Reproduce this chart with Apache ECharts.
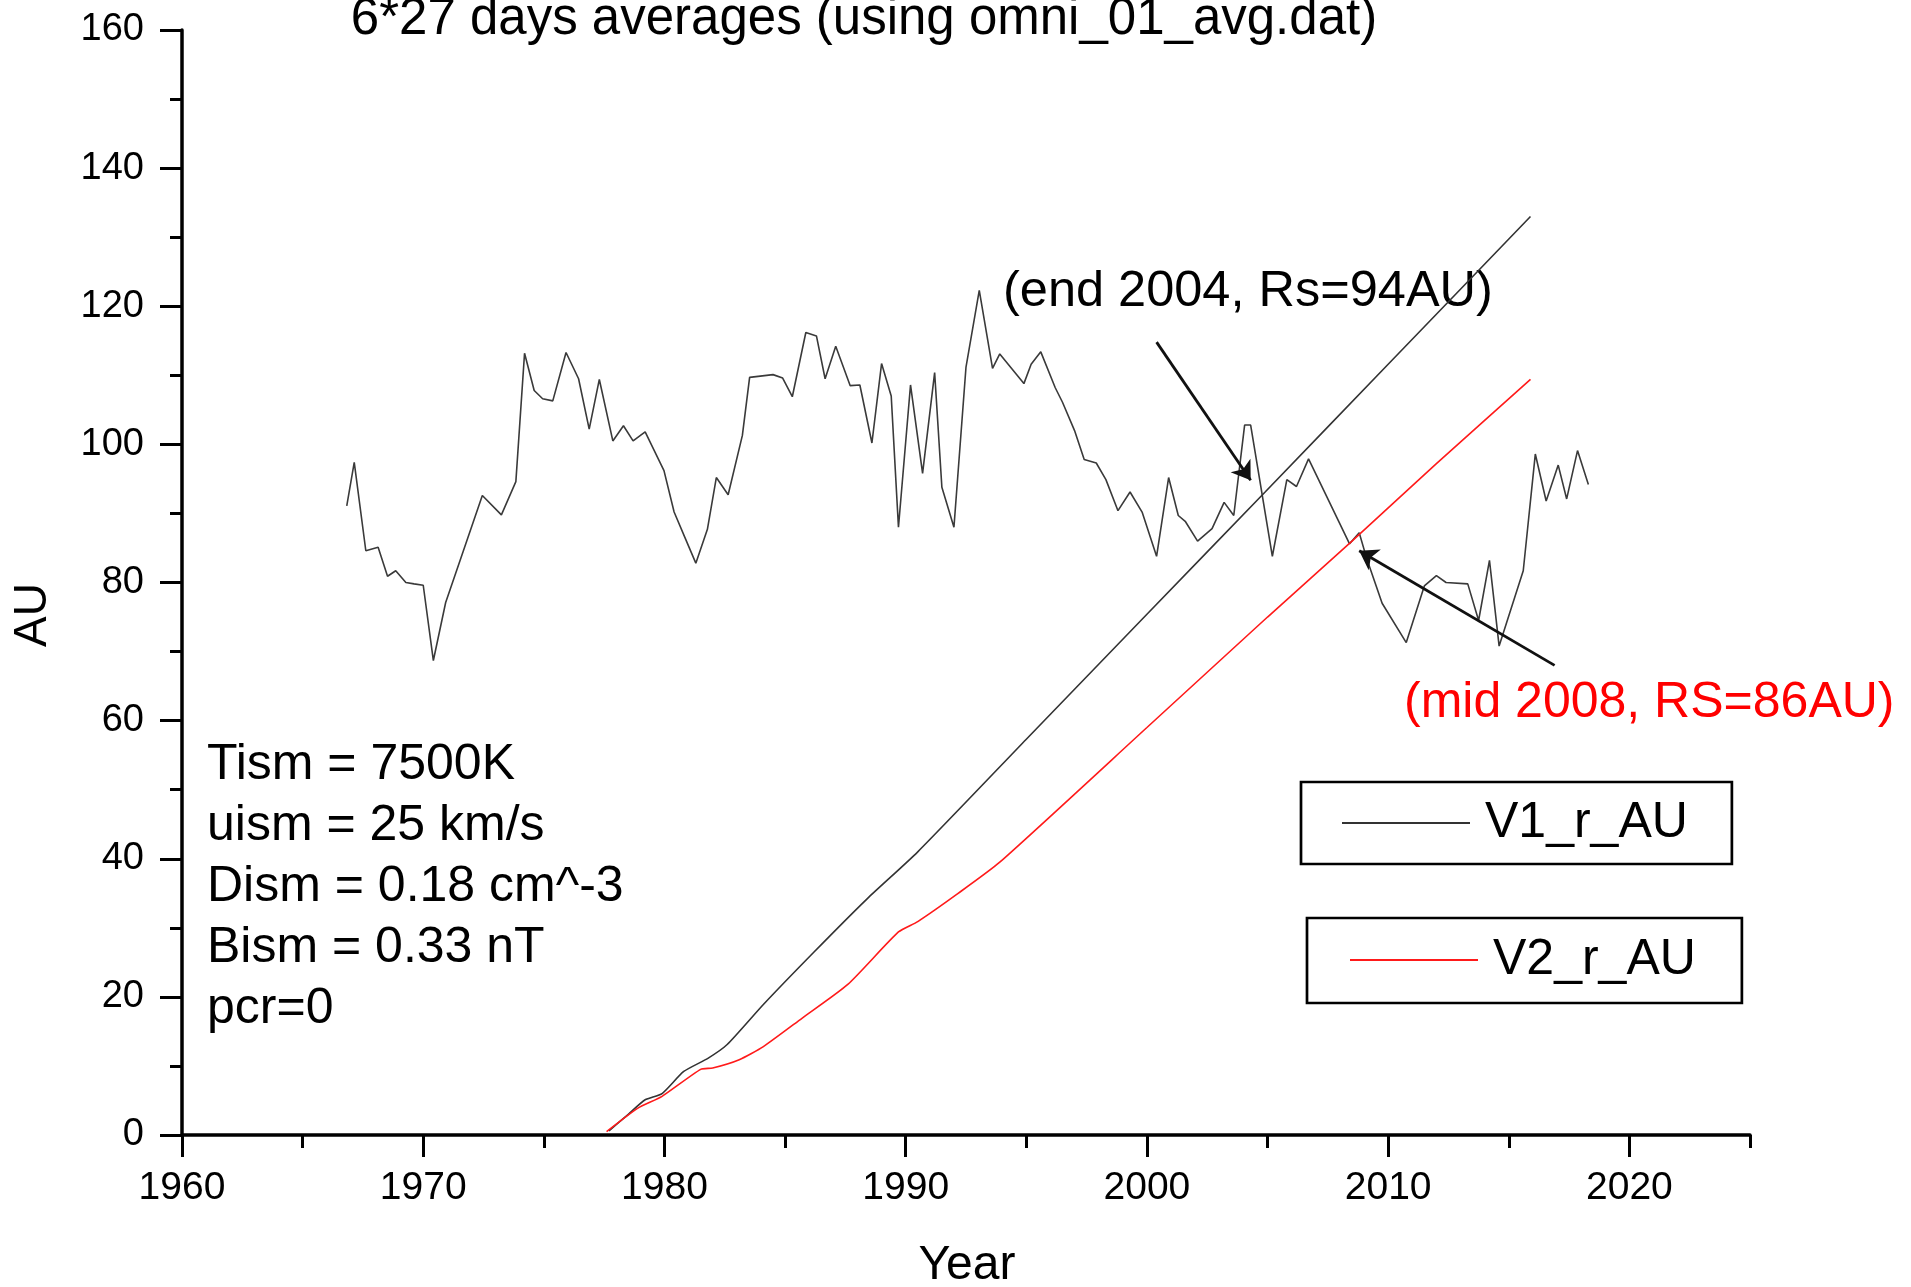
<!DOCTYPE html>
<html><head><meta charset="utf-8">
<script src="https://cdn.jsdelivr.net/npm/echarts@6/dist/echarts.min.js"></script>
<style>html,body{margin:0;padding:0;background:#fff}#c{width:1911px;height:1287px}</style>
</head><body><div id="c"></div>
<script>
// ---- data ----
const noisyYears = [1966.83,1967.14,1967.62,1968.13,1968.52,1968.86,1969.28,1969.62,1970.0,1970.42,1970.93,1972.45,1973.24,1973.84,1974.2,1974.6,1974.95,1975.37,1975.92,1976.44,1976.88,1977.3,1977.86,1978.3,1978.7,1979.2,1979.98,1980.4,1980.85,1981.3,1981.78,1982.15,1982.64,1983.23,1983.53,1984.5,1984.9,1985.3,1985.86,1986.3,1986.66,1987.1,1987.7,1988.1,1988.6,1989.0,1989.4,1989.7,1990.2,1990.7,1991.2,1991.5,1992.0,1992.5,1993.05,1993.6,1993.9,1994.9,1995.2,1995.6,1996.2,1996.5,1997.0,1997.4,1997.9,1998.3,1998.8,1999.3,1999.8,2000.4,2000.9,2001.3,2001.6,2002.1,2002.7,2003.2,2003.6,2004.05,2004.3,2005.2,2005.8,2006.2,2006.7,2008.4,2008.8,2009.1,2009.75,2010.75,2011.5,2012.0,2012.4,2013.3,2013.75,2014.2,2014.6,2015.6,2016.1,2016.55,2017.05,2017.4,2017.85,2018.3];
const noisyAU = [91.1,97.4,84.6,85.1,80.9,81.7,80.0,79.8,79.6,68.7,77.1,92.6,89.8,94.6,113.2,107.8,106.6,106.3,113.3,109.5,102.2,109.4,100.5,102.7,100.5,101.8,96.2,90.2,86.5,82.8,87.7,95.2,92.7,101.3,109.7,110.1,109.6,106.9,116.2,115.7,109.5,114.2,108.5,108.6,100.2,111.7,107.0,88.0,108.6,95.8,110.4,93.8,88.0,111.2,122.3,111.0,113.1,108.8,111.6,113.4,108.2,106.1,102.0,97.8,97.3,94.9,90.4,93.1,90.2,83.8,95.2,89.7,88.8,86.0,87.8,91.6,89.7,102.8,102.8,83.8,94.9,93.9,97.9,85.6,87.2,83.6,77.0,71.3,79.5,81.0,80.0,79.8,74.5,83.2,70.8,81.7,98.6,91.8,97.0,92.1,99.1,94.2];

const v1Years = [1977.7,1978.5,1979.2,1979.9,1980.8,1981.8,1982.6,1984.1,1986.2,1988.4,1990.5,1995.0,2000.0,2004.9,2010.0,2015.9];
const v1AU    = [0.6,3.0,5.1,6.0,9.2,11.1,13.1,18.9,26.5,34.2,41.0,57.3,75.4,93.1,111.6,133.0];

const v2Years = [1977.6,1978.9,1979.9,1981.5,1982.0,1983.1,1984.1,1985.7,1987.6,1989.7,1990.5,1992.1,1993.9,2000.0,2005.0,2008.5,2012.0,2015.9];
const v2AU    = [0.5,3.9,5.6,9.5,9.7,10.9,12.8,16.9,21.8,29.4,30.9,34.8,39.5,59.0,75.0,86.0,97.2,109.4];

const xMajorTicks = [1960,1970,1980,1990,2000,2010,2020];
const xMinorTicks = [1965,1975,1985,1995,2005,2015,2025];
const yMajorTicks = [0,20,40,60,80,100,120,140,160];
const yMinorTicks = [10,30,50,70,90,110,130,150];

const titleText = '6*27 days averages (using omni_01_avg.dat)';
const paramLines = ['Tism = 7500K','uism = 25 km/s','Dism = 0.18 cm^-3','Bism = 0.33 nT','pcr=0'];
const note1 = '(end 2004, Rs=94AU)';
const note2 = '(mid 2008, RS=86AU)';
const arrow1 = [[2000.4,114.8],[2004.3,94.8]];
const arrow2 = [[2016.9,68.0],[2008.8,84.6]];

// ---- chart ----
const FF = "'Liberation Sans', Arial, Helvetica, sans-serif";
const pairs = (xs, ys) => xs.map((x, i) => [x, ys[i]]);
const chart = echarts.init(document.getElementById('c'), null, {renderer: 'canvas'});

const axisCommonX = {type: 'value', min: 1960, max: 2025, position: 'bottom', splitLine: {show: false}};
const axisCommonY = {type: 'value', min: 0, max: 160, position: 'left', splitLine: {show: false}};

const graphics = [
  {type: 'text', x: 864, y: 20, style: {text: titleText, fontSize: 51, fontFamily: FF, fill: '#000', align: 'center', verticalAlign: 'middle'}},
  {type: 'text', x: 33, y: 615, rotation: Math.PI / 2, style: {text: 'AU', fontSize: 46, fontFamily: FF, fill: '#000', align: 'center', verticalAlign: 'middle'}},
  {type: 'text', x: 967, y: 1266, style: {text: 'Year', fontSize: 48, fontFamily: FF, fill: '#000', align: 'center', verticalAlign: 'middle'}},
  {type: 'text', x: 1003, y: 292, style: {text: note1, fontSize: 50.5, fontFamily: FF, fill: '#000', align: 'left', verticalAlign: 'middle'}},
  {type: 'text', x: 1404, y: 703, style: {text: note2, fontSize: 50, fontFamily: FF, fill: '#ff0000', align: 'left', verticalAlign: 'middle'}}
];
const paramY = [765, 826, 887, 948, 1009];
paramLines.forEach((t, i) => graphics.push({type: 'text', x: 207, y: paramY[i], style: {text: t, fontSize: 50, fontFamily: FF, fill: '#000', align: 'left', verticalAlign: 'middle'}}));

const legendCommon = {
  orient: 'horizontal', selectedMode: false, borderColor: '#000', borderWidth: 2.7, borderRadius: 0,
  itemWidth: 128, itemHeight: 50, backgroundColor: '#fff',
  itemStyle: {opacity: 0},
  textStyle: {fontSize: 50, fontFamily: FF, color: '#000', lineHeight: 50, padding: [0, 0, 0, 10]}
};
const plainNum = v => String(v);

chart.setOption({
  animation: false,
  backgroundColor: '#fff',
  textStyle: {fontFamily: FF},
  grid: {left: 182, right: 161, top: 30, bottom: 152, containLabel: false, outerBoundsMode: 'none'},
  xAxis: [
    Object.assign({}, axisCommonX, {
      axisLine: {show: true, lineStyle: {color: '#000', width: 3.5}},
      axisTick: {show: true, inside: false, length: 22, customValues: xMajorTicks, lineStyle: {color: '#000', width: 3}},
      axisLabel: {show: true, customValues: xMajorTicks, formatter: plainNum, margin: 34, fontSize: 39, fontFamily: FF, color: '#000'}
    }),
    Object.assign({}, axisCommonX, {
      axisLine: {show: false},
      axisTick: {show: true, inside: false, length: 13, customValues: xMinorTicks, lineStyle: {color: '#000', width: 3}},
      axisLabel: {show: false}
    })
  ],
  yAxis: [
    Object.assign({}, axisCommonY, {
      axisLine: {show: true, lineStyle: {color: '#000', width: 3.5}},
      axisTick: {show: true, inside: false, length: 22, customValues: yMajorTicks, lineStyle: {color: '#000', width: 3}},
      axisLabel: {show: true, customValues: yMajorTicks, formatter: plainNum, margin: 38, fontSize: 38, fontFamily: FF, color: '#000'}
    }),
    Object.assign({}, axisCommonY, {
      axisLine: {show: false},
      axisTick: {show: true, inside: false, length: 12, customValues: yMinorTicks, lineStyle: {color: '#000', width: 3}},
      axisLabel: {show: false}
    })
  ],
  legend: [
    Object.assign({}, legendCommon, {data: ['V1_r_AU'], left: 1301, top: 782, padding: [16, 44, 16, 40]}),
    Object.assign({}, legendCommon, {data: ['V2_r_AU'], left: 1307, top: 918, padding: [17, 46, 18, 42]})
  ],
  graphic: graphics,
  series: [
    {
      name: 'Rs', type: 'line', xAxisIndex: 0, yAxisIndex: 0, data: pairs(noisyYears, noisyAU),
      symbol: 'none', showSymbol: false, silent: true,
      lineStyle: {color: '#3a3a3a', width: 1.6},
      markLine: {
        silent: true, animation: false, symbol: ['none', 'arrow'], symbolSize: 18,
        label: {show: false},
        itemStyle: {color: '#111'},
        lineStyle: {color: '#111', width: 2.8, type: 'solid'},
        data: [
          [{coord: arrow1[0]}, {coord: arrow1[1]}],
          [{coord: arrow2[0]}, {coord: arrow2[1]}]
        ]
      }
    },
    {
      name: 'V1_r_AU', type: 'line', xAxisIndex: 0, yAxisIndex: 0, data: pairs(v1Years, v1AU),
      symbol: 'none', showSymbol: false, smooth: 0.2, color: '#333',
      lineStyle: {color: '#333', width: 1.6}
    },
    {
      name: 'V2_r_AU', type: 'line', xAxisIndex: 0, yAxisIndex: 0, data: pairs(v2Years, v2AU),
      symbol: 'none', showSymbol: false, smooth: 0.2, color: '#ff1a1a',
      lineStyle: {color: '#ff1a1a', width: 1.6}
    }
  ]
});
</script>
</body></html>
